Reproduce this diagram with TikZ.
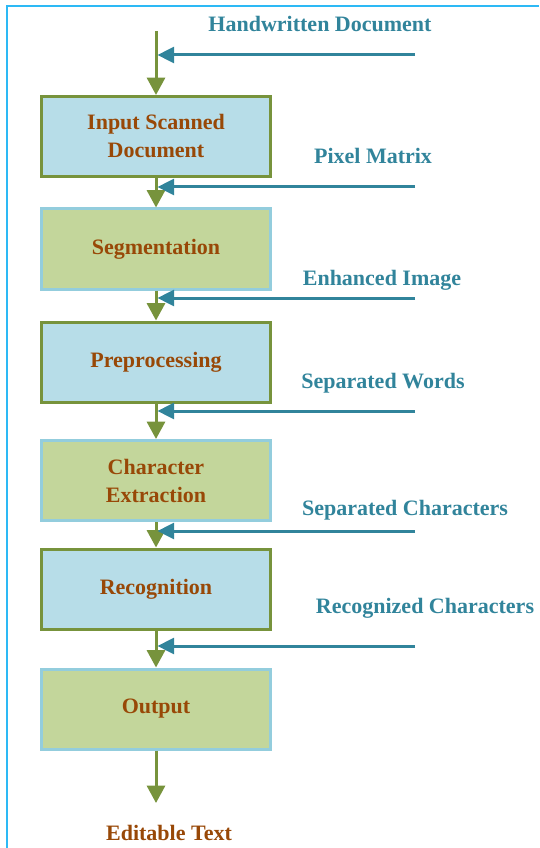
\documentclass[tikz,border=0pt]{standalone}
\usepackage{fontspec}
\setmainfont{Liberation Serif}
\usetikzlibrary{arrows.meta}
\definecolor{flowgreen}{HTML}{77933C}
\definecolor{feedblue}{HTML}{31849B}
\definecolor{txtbrown}{HTML}{984807}
\definecolor{fillblue}{HTML}{B7DDE8}
\definecolor{fillgreen}{HTML}{C3D69B}
\definecolor{edgeblue}{HTML}{93CDDD}
\definecolor{framecol}{HTML}{2DB9F5}
\begin{document}
\begin{tikzpicture}[x=0.75pt,y=-0.75pt,line width=2.25pt,font=\fontsize{16.5}{21}\selectfont\bfseries,
	box/.style={draw,minimum width=172pt,minimum height=60pt,align=center,text=txtbrown},
	bluebox/.style={box,draw=flowgreen,fill=fillblue},
	greenbox/.style={box,draw=edgeblue,fill=fillgreen},
	flow/.style={flowgreen,-{Triangle[length=13pt,width=13.5pt]}},
	feed/.style={feedblue,-{Triangle[length=12.5pt,width=12pt]}},
	lbl/.style={anchor=base,text=feedblue}]
				\useasboundingbox (0,0) rectangle (539,848);
				\draw[framecol,line width=1.5pt] (7,848)--(7,6)--(539,6);
				\node[bluebox] (input) at (156,136.5) {Input Scanned\\Document};
				\node[greenbox] (seg) at (156,249) {Segmentation};
				\node[bluebox] (pre) at (156,362) {Preprocessing};
				\node[greenbox] (ext) at (156,480.5) {Character\\Extraction};
				\node[bluebox] (rec) at (156,589) {Recognition};
				\node[greenbox] (out) at (156,709) {Output};
				\coordinate (start) at (156,31);
				\coordinate (end) at (156,803);
				\draw[flow] (start)--(input.north);
				\draw[flow] (input.south)--(seg.north);
				\draw[flow] (seg.south)--(pre.north);
				\draw[flow] (pre.south)--(ext.north);
				\draw[flow] (ext.south)--(rec.north);
				\draw[flow] (rec.south)--(out.north);
				\draw[flow] (out.south)--(end);
				\node[text=txtbrown,anchor=base] (edit) at (169,840) {Editable Text};
				% inputs coming from the right
				\coordinate (hw) at (415,55);
				\coordinate (px) at (415,187);
				\coordinate (en) at (415,298);
				\coordinate (sw) at (415,411);
				\coordinate (sc) at (415,531);
				\coordinate (rc) at (415,646);
				\draw[feed] (hw)--([xshift=1.1pt]hw-|start);
				\draw[feed] (px)--([xshift=1.1pt]px-|start);
				\draw[feed] (en)--([xshift=1.1pt]en-|start);
				\draw[feed] (sw)--([xshift=1.1pt]sw-|start);
				\draw[feed] (sc)--([xshift=1.1pt]sc-|start);
				\draw[feed] (rc)--([xshift=1.1pt]rc-|start);
				\node[lbl] (hwlbl) at (320,32) {Handwritten Document};
				\node[lbl] (pxlbl) at (373,164) {Pixel Matrix};
				\node[lbl] (enlbl) at (382,286) {Enhanced Image};
				\node[lbl] (swlbl) at (383,388) {Separated Words};
				\node[lbl] (sclbl) at (405,515) {Separated Characters};
				\node[lbl] (rclbl) at (425,613) {Recognized Characters};
			\end{tikzpicture}
\end{document}
